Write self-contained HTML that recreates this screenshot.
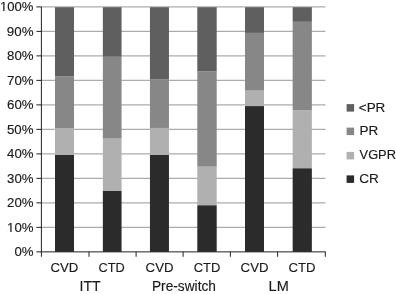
<!DOCTYPE html>
<html><head><meta charset="utf-8"><title>Response distribution by treatment arm</title><style>
html,body{margin:0;padding:0;background:#fff;width:396px;height:294px;overflow:hidden;position:relative}
svg{display:block;position:absolute;left:0;top:0;will-change:transform}
text{font-family:"Liberation Sans",sans-serif;font-size:13px;fill:#1a1a1a;stroke:#1a1a1a;stroke-width:0.15px}
</style></head><body>
<svg width="396" height="294" viewBox="0 0 396 294">
<line x1="41" y1="227.36" x2="325.5" y2="227.36" stroke="#acacac" stroke-width="1.4"/>
<line x1="41" y1="202.87" x2="325.5" y2="202.87" stroke="#acacac" stroke-width="1.4"/>
<line x1="41" y1="178.37" x2="325.5" y2="178.37" stroke="#acacac" stroke-width="1.4"/>
<line x1="41" y1="153.88" x2="325.5" y2="153.88" stroke="#acacac" stroke-width="1.4"/>
<line x1="41" y1="129.38" x2="325.5" y2="129.38" stroke="#acacac" stroke-width="1.4"/>
<line x1="41" y1="104.88" x2="325.5" y2="104.88" stroke="#acacac" stroke-width="1.4"/>
<line x1="41" y1="80.39" x2="325.5" y2="80.39" stroke="#acacac" stroke-width="1.4"/>
<line x1="41" y1="55.89" x2="325.5" y2="55.89" stroke="#acacac" stroke-width="1.4"/>
<line x1="41" y1="31.40" x2="325.5" y2="31.40" stroke="#acacac" stroke-width="1.4"/>
<line x1="41" y1="6.90" x2="325.5" y2="6.90" stroke="#acacac" stroke-width="1.4"/>
<rect x="55.0" y="154.9" width="19.0" height="96.96" fill="#2b2b2b"/>
<rect x="55.0" y="128.05" width="19.0" height="26.85" fill="#b0b0b0"/>
<rect x="55.0" y="76.4" width="19.0" height="51.65" fill="#878787"/>
<rect x="55.0" y="7.2" width="19.0" height="69.20" fill="#5f5f5f"/>
<rect x="102.85" y="191.0" width="18.7" height="60.86" fill="#2b2b2b"/>
<rect x="102.85" y="138.55" width="18.7" height="52.45" fill="#b0b0b0"/>
<rect x="102.85" y="56.7" width="18.7" height="81.85" fill="#878787"/>
<rect x="102.85" y="7.2" width="18.7" height="49.50" fill="#5f5f5f"/>
<rect x="149.95" y="154.98" width="19.0" height="96.88" fill="#2b2b2b"/>
<rect x="149.95" y="127.95" width="19.0" height="27.03" fill="#b0b0b0"/>
<rect x="149.95" y="79.45" width="19.0" height="48.50" fill="#878787"/>
<rect x="149.95" y="7.2" width="19.0" height="72.25" fill="#5f5f5f"/>
<rect x="197.3" y="205.2" width="19.4" height="46.66" fill="#2b2b2b"/>
<rect x="197.3" y="166.6" width="19.4" height="38.60" fill="#b0b0b0"/>
<rect x="197.3" y="71.45" width="19.4" height="95.15" fill="#878787"/>
<rect x="197.3" y="7.2" width="19.4" height="64.25" fill="#5f5f5f"/>
<rect x="245.0" y="106.06" width="19.0" height="145.80" fill="#2b2b2b"/>
<rect x="245.0" y="90.6" width="19.0" height="15.46" fill="#b0b0b0"/>
<rect x="245.0" y="32.9" width="19.0" height="57.70" fill="#878787"/>
<rect x="245.0" y="7.2" width="19.0" height="25.70" fill="#5f5f5f"/>
<rect x="292.65" y="168.2" width="19.2" height="83.66" fill="#2b2b2b"/>
<rect x="292.65" y="110.3" width="19.2" height="57.90" fill="#b0b0b0"/>
<rect x="292.65" y="21.8" width="19.2" height="88.50" fill="#878787"/>
<rect x="292.65" y="7.2" width="19.2" height="14.60" fill="#5f5f5f"/>
<line x1="41.4" y1="6.9" x2="41.4" y2="256.8" stroke="#222" stroke-width="1"/>
<line x1="40.9" y1="251.86" x2="325.8" y2="251.86" stroke="#222" stroke-width="1"/>
<line x1="36.4" y1="251.86" x2="41.4" y2="251.86" stroke="#222" stroke-width="1"/>
<line x1="36.4" y1="227.36" x2="41.4" y2="227.36" stroke="#222" stroke-width="1"/>
<line x1="36.4" y1="202.87" x2="41.4" y2="202.87" stroke="#222" stroke-width="1"/>
<line x1="36.4" y1="178.37" x2="41.4" y2="178.37" stroke="#222" stroke-width="1"/>
<line x1="36.4" y1="153.88" x2="41.4" y2="153.88" stroke="#222" stroke-width="1"/>
<line x1="36.4" y1="129.38" x2="41.4" y2="129.38" stroke="#222" stroke-width="1"/>
<line x1="36.4" y1="104.88" x2="41.4" y2="104.88" stroke="#222" stroke-width="1"/>
<line x1="36.4" y1="80.39" x2="41.4" y2="80.39" stroke="#222" stroke-width="1"/>
<line x1="36.4" y1="55.89" x2="41.4" y2="55.89" stroke="#222" stroke-width="1"/>
<line x1="36.4" y1="31.40" x2="41.4" y2="31.40" stroke="#222" stroke-width="1"/>
<line x1="36.4" y1="6.90" x2="41.4" y2="6.90" stroke="#222" stroke-width="1"/>
<line x1="89.00" y1="251.86" x2="89.00" y2="256.8" stroke="#222" stroke-width="1"/>
<line x1="136.10" y1="251.86" x2="136.10" y2="256.8" stroke="#222" stroke-width="1"/>
<line x1="183.10" y1="251.86" x2="183.10" y2="256.8" stroke="#222" stroke-width="1"/>
<line x1="230.35" y1="251.86" x2="230.35" y2="256.8" stroke="#222" stroke-width="1"/>
<line x1="277.60" y1="251.86" x2="277.60" y2="256.8" stroke="#222" stroke-width="1"/>
<line x1="325.30" y1="251.86" x2="325.30" y2="256.8" stroke="#222" stroke-width="1"/>
<rect x="346.6" y="104.1" width="7.5" height="7.5" fill="#5f5f5f"/>
<rect x="346.6" y="127.6" width="7.5" height="7.5" fill="#878787"/>
<rect x="346.6" y="151.9" width="7.5" height="7.5" fill="#b0b0b0"/>
<rect x="346.6" y="175.4" width="7.5" height="7.5" fill="#2b2b2b"/>
<text x="23.94" y="256.00" text-anchor="middle" textLength="19.09" lengthAdjust="spacingAndGlyphs">0%</text>
<text x="20.32" y="232.00" text-anchor="middle" textLength="26.49" lengthAdjust="spacingAndGlyphs">10%</text>
<text x="20.32" y="207.00" text-anchor="middle" textLength="26.49" lengthAdjust="spacingAndGlyphs">20%</text>
<text x="20.32" y="183.00" text-anchor="middle" textLength="26.49" lengthAdjust="spacingAndGlyphs">30%</text>
<text x="20.32" y="158.00" text-anchor="middle" textLength="26.49" lengthAdjust="spacingAndGlyphs">40%</text>
<text x="20.20" y="134.00" text-anchor="middle" textLength="26.57" lengthAdjust="spacingAndGlyphs">50%</text>
<text x="20.31" y="109.00" text-anchor="middle" textLength="26.54" lengthAdjust="spacingAndGlyphs">60%</text>
<text x="20.31" y="85.00" text-anchor="middle" textLength="26.54" lengthAdjust="spacingAndGlyphs">70%</text>
<text x="20.31" y="60.00" text-anchor="middle" textLength="26.54" lengthAdjust="spacingAndGlyphs">80%</text>
<text x="20.17" y="36.00" text-anchor="middle" textLength="26.70" lengthAdjust="spacingAndGlyphs">90%</text>
<text x="16.62" y="11.00" text-anchor="middle" textLength="33.44" lengthAdjust="spacingAndGlyphs">100%</text>
<text x="64.32" y="272.00" text-anchor="middle" style="font-size:13.5px" textLength="27.89" lengthAdjust="spacingAndGlyphs">CVD</text>
<text x="111.60" y="272.00" text-anchor="middle" style="font-size:13.5px" textLength="26.18" lengthAdjust="spacingAndGlyphs">CTD</text>
<text x="159.56" y="272.00" text-anchor="middle" style="font-size:13.5px" textLength="27.88" lengthAdjust="spacingAndGlyphs">CVD</text>
<text x="206.93" y="272.00" text-anchor="middle" style="font-size:13.5px" textLength="26.61" lengthAdjust="spacingAndGlyphs">CTD</text>
<text x="254.56" y="272.00" text-anchor="middle" style="font-size:13.5px" textLength="27.88" lengthAdjust="spacingAndGlyphs">CVD</text>
<text x="302.07" y="272.00" text-anchor="middle" style="font-size:13.5px" textLength="27.06" lengthAdjust="spacingAndGlyphs">CTD</text>
<text x="90.11" y="291.00" text-anchor="middle" style="font-size:14px" textLength="21.13" lengthAdjust="spacingAndGlyphs">ITT</text>
<text x="183.94" y="291.00" text-anchor="middle" style="font-size:14px" textLength="63.97" lengthAdjust="spacingAndGlyphs">Pre-switch</text>
<text x="278.69" y="291.00" text-anchor="middle" style="font-size:14px" textLength="20.17" lengthAdjust="spacingAndGlyphs">LM</text>
<text x="372.06" y="112.00" text-anchor="middle" textLength="26.52" lengthAdjust="spacingAndGlyphs">&lt;PR</text>
<text x="368.78" y="135.00" text-anchor="middle" textLength="18.76" lengthAdjust="spacingAndGlyphs">PR</text>
<text x="377.76" y="159.00" text-anchor="middle" textLength="36.36" lengthAdjust="spacingAndGlyphs">VGPR</text>
<text x="369.03" y="183.00" text-anchor="middle" textLength="19.58" lengthAdjust="spacingAndGlyphs">CR</text>
<rect x="7.85" y="230.88" width="2.49" height="1.72" fill="#fff"/>
<rect x="11.64" y="230.88" width="2.42" height="1.72" fill="#fff"/>
<rect x="0.66" y="9.88" width="2.46" height="1.72" fill="#fff"/>
<rect x="4.40" y="9.88" width="2.39" height="1.72" fill="#fff"/>
</svg>
</body></html>
